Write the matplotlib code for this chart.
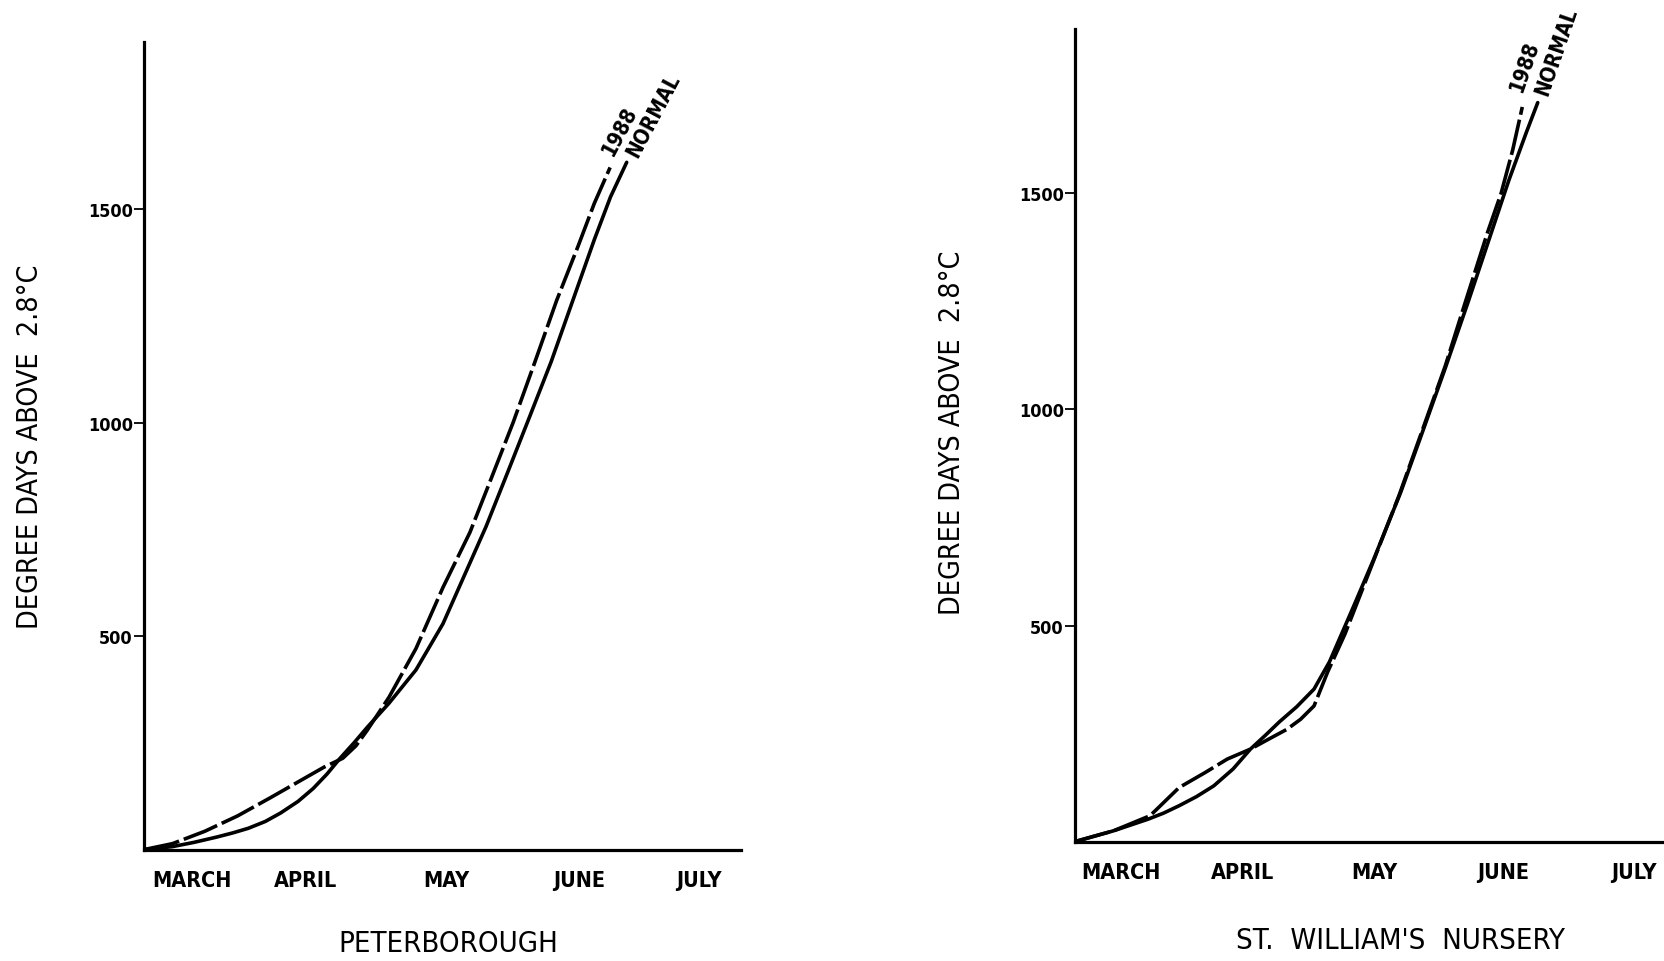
import matplotlib
matplotlib.use("Agg")
import matplotlib.pyplot as plt

# x = days after 1 March, y = degree days above 2.8 C
months = ['MARCH', 'APRIL', 'MAY', 'JUNE', 'JULY']
month_pos_pet = [12.5, 42, 78.5, 113, 144]
month_pos_stw = [12, 43.5, 77.5, 111, 145]

# Peterborough
pet_normal_days = [0, 7.4, 13, 18.7, 23, 27.1, 31.5, 35.5, 40, 43.9, 47.5, 50.9, 54.5, 57.9,
                   63.6, 70.6, 77.6, 83.2, 88.8, 94.5, 100.1, 105.7, 111.3, 116.9, 121.1, 125.3]
pet_normal_vals = [0, 7, 17, 29, 39, 50, 66, 86, 113, 143, 177, 214, 250, 286,
                   343, 421, 529, 643, 757, 886, 1014, 1143, 1286, 1429, 1529, 1610]
pet_1988_days = [0, 7.4, 15.8, 24.3, 32.7, 39.7, 46.7, 51.6, 55, 57.9, 63.6, 70.6, 77.6,
                 84.6, 90.2, 95.8, 101.5, 107.1, 112.7, 116.9, 121.0]
pet_1988_vals = [0, 14, 43, 79, 121, 157, 193, 214, 243, 279, 357, 471, 614,
                 743, 871, 1000, 1143, 1286, 1414, 1514, 1598]

# St. William's Nursery
stw_normal_days = [0, 10, 19, 23, 27, 31.5, 36, 41, 45.5, 49.5, 53, 57.5, 62, 66, 72, 77.5,
                   84.5, 90, 96, 102, 108, 112.5, 117, 120]
stw_normal_vals = [0, 25, 52, 66, 83, 104, 129, 168, 214, 247, 277, 312, 353, 416, 539, 654,
                   809, 945, 1095, 1250, 1410, 1530, 1640, 1710]
stw_1988_days = [0, 10, 19.5, 27, 33.8, 39.5, 45.5, 50, 55, 58.5, 62, 65.5, 70, 77,
                 84, 90, 96, 101.5, 107, 110.5, 113.5, 116]
stw_1988_vals = [0, 25, 60, 125, 160, 191, 214, 236, 260, 283, 314, 392, 480, 640,
                 800, 950, 1100, 1256, 1410, 1500, 1600, 1700]

yticks = [500, 1000, 1500]

plt.rcParams['font.family'] = ['DejaVu Sans']
plt.rcParams['font.stretch'] = 'condensed'

fig = plt.figure(figsize=(16.65, 9.62), dpi=100)
ax1 = fig.add_axes([0.0865, 0.1158, 0.3586, 0.840])
ax2 = fig.add_axes([0.6456, 0.1241, 0.3544, 0.845])


def draw_panel(ax, nd, nv, dd, dv, mpos, ymax, xmax, title, rot, off88, offnorm,
               ylab_xy, title_xy):
    ax.plot(nd, nv, color='black', lw=2.6, solid_capstyle='round')
    ax.plot(dd, dv, color='black', lw=2.6, dashes=(10, 1.4), dash_capstyle='butt')
    ax.set_xlim(0, xmax)
    ax.set_ylim(0, ymax)
    for s in ['top', 'right']:
        ax.spines[s].set_visible(False)
    for s in ['left', 'bottom']:
        ax.spines[s].set_linewidth(2.3)
        ax.spines[s].set_capstyle('projecting')
    ax.set_yticks(yticks, [str(v) for v in yticks], fontsize=13, fontweight='bold')
    ax.tick_params(axis='y', length=7, width=1.3, pad=1)
    ax.set_xticks(mpos, months, fontsize=15.5, fontweight='bold')
    ax.tick_params(axis='x', length=0, pad=15)
    ax.set_ylabel('DEGREE DAYS ABOVE  2.8°C', fontsize=20.5)
    ax.yaxis.set_label_coords(*ylab_xy)
    ax.set_xlabel(title, fontsize=21)
    ax.xaxis.set_label_coords(*title_xy)
    ax.annotate('1988', xy=(dd[-1], dv[-1]), xytext=off88, textcoords='offset points',
                rotation=rot, rotation_mode='anchor', ha='left', va='center',
                fontsize=15, fontweight='bold')
    ax.annotate('NORMAL', xy=(nd[-1], nv[-1]), xytext=offnorm, textcoords='offset points',
                rotation=rot, rotation_mode='anchor', ha='left', va='center',
                fontsize=15, fontweight='bold')
    ax.patch.set_visible(False)


draw_panel(ax1, pet_normal_days, pet_normal_vals, pet_1988_days, pet_1988_vals,
           month_pos_pet, 1893, 155, 'PETERBOROUGH', 62, (-2, 10), (4, 5),
           (-0.168, 0.5), (0.509, -0.098))
draw_panel(ax2, stw_normal_days, stw_normal_vals, stw_1988_days, stw_1988_vals,
           month_pos_stw, 1881, 153, "ST.  WILLIAM'S  NURSERY", 71, (-4, 12), (3, 6),
           (-0.184, 0.504), (0.551, -0.104))

fig.savefig('out.png', dpi=100)
